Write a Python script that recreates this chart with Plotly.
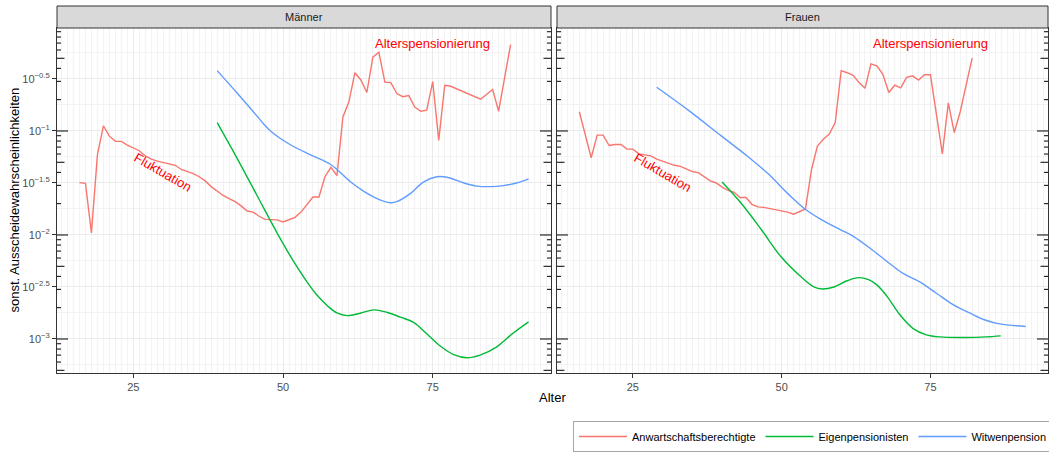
import math
import plotly.graph_objects as go

# ---------------- data (log10 of probability) ----------------
SERIES = ["Anwartschaftsberechtigte", "Eigenpensionisten", "Witwenpension"]
COLORS = ["#F8766D", "#00BA38", "#619CFF"]
PANELS = ["Männer", "Frauen"]

# Männer
m_anw_age = [16, 17, 18, 19, 20, 21, 22, 23, 24, 25, 26, 27, 28, 29, 30, 31, 32, 33, 34, 35,
             36, 37, 38, 39, 40, 41, 42, 43, 44, 45, 46, 47, 48, 49, 50, 51, 52, 53, 54, 55,
             56, 57, 58, 59, 60, 61, 62, 63, 64, 65, 66, 67, 68, 69, 70, 71, 72, 73, 74, 75,
             76, 77, 78, 83, 85, 86, 88]
m_anw_log = [-1.497, -1.503, -1.98, -1.23, -0.95, -1.05, -1.10, -1.10, -1.135, -1.16,
             -1.19, -1.24, -1.27, -1.29, -1.305, -1.315, -1.33, -1.37, -1.39, -1.41,
             -1.44, -1.48, -1.535, -1.58, -1.62, -1.65, -1.68, -1.72, -1.77, -1.78,
             -1.82, -1.85, -1.85, -1.855, -1.875, -1.855, -1.83, -1.78, -1.71, -1.635,
             -1.635, -1.44, -1.35, -1.43, -0.865, -0.72, -0.44, -0.51, -0.63, -0.29,
             -0.243, -0.53, -0.535, -0.64, -0.67, -0.66, -0.77, -0.81, -0.80, -0.525,
             -1.09, -0.56, -0.57, -0.695, -0.60, -0.81, -0.17]

m_eig_age = [39, 42.4, 45.7, 49, 51.3, 54, 55.7, 57.4, 59, 60.7, 63, 65.2, 67.4, 69.6,
             71.8, 74, 76.3, 78.5, 80.7, 82.9, 85.7, 88.4, 91]
m_eig_log = [-0.92, -1.27, -1.625, -1.98, -2.21, -2.45, -2.58, -2.68, -2.75, -2.775,
             -2.75, -2.72, -2.745, -2.79, -2.84, -2.95, -3.07, -3.15, -3.18, -3.155,
             -3.075, -2.945, -2.835]

m_wit_age = [39, 42.4, 45.7, 46.8, 48, 49.5, 51.3, 54.6, 57.9, 59, 61.3, 63.5, 65.7, 67.9,
             69, 71.3, 73.5, 75.7, 77.4, 80.2, 82.4, 84.6, 86.8, 89, 91]
m_wit_log = [-0.42, -0.64, -0.86, -0.935, -1.005, -1.07, -1.135, -1.23, -1.32, -1.37,
             -1.49, -1.58, -1.65, -1.69, -1.68, -1.60, -1.49, -1.44, -1.445, -1.50,
             -1.53, -1.535, -1.525, -1.50, -1.46]

# Frauen
f_anw_age = [16, 18, 19, 20, 21, 22, 23, 24, 25, 26, 27, 28, 29, 30, 31, 32, 33, 34, 35,
             36, 37, 38, 39, 40, 41, 42, 43, 44, 45, 46, 47, 48, 49, 50, 51, 52, 53, 54,
             55, 56, 57, 58, 59, 60, 61, 62, 63, 64, 65, 66, 67, 68, 69, 70, 71, 72, 73,
             74, 75, 77, 78, 79, 80, 82]
f_anw_log = [-0.815, -1.257, -1.04, -1.04, -1.14, -1.13, -1.13, -1.175, -1.175, -1.22,
             -1.23, -1.24, -1.27, -1.29, -1.31, -1.33, -1.34, -1.365, -1.39, -1.40,
             -1.44, -1.48, -1.50, -1.54, -1.57, -1.59, -1.64, -1.64, -1.705, -1.73,
             -1.735, -1.745, -1.76, -1.77, -1.78, -1.80, -1.775, -1.75, -1.375, -1.145,
             -1.08, -1.03, -0.92, -0.42, -0.44, -0.465, -0.535, -0.59, -0.355, -0.375,
             -0.455, -0.63, -0.56, -0.585, -0.485, -0.47, -0.51, -0.46, -0.46, -1.22,
             -0.73, -1.015, -0.815, -0.30]

f_eig_age = [40, 43.2, 46.6, 49.9, 53.2, 55.4, 56.8, 58.8, 61, 62.9, 64.6, 66, 67.7, 69.9,
             72.1, 74.3, 76.6, 81, 84.3, 86.8]
f_eig_log = [-1.49, -1.695, -1.95, -2.21, -2.40, -2.50, -2.52, -2.50, -2.44, -2.41,
             -2.43, -2.48, -2.59, -2.77, -2.90, -2.96, -2.98, -2.985, -2.98, -2.97]

f_wit_age = [29, 34.3, 39.9, 44.3, 47.7, 51, 53.8, 56.6, 59.9, 62.1, 64.9, 67.7, 70.4,
             73.2, 76, 78.8, 81.6, 84.3, 86.6, 91]
f_wit_log = [-0.58, -0.80, -1.05, -1.245, -1.41, -1.60, -1.745, -1.85, -1.95, -2.015,
             -2.13, -2.255, -2.37, -2.45, -2.56, -2.67, -2.75, -2.82, -2.855, -2.88]

y_tick_vals = [-3, -2.5, -2, -1.5, -1, -0.5]
y_tick_text = ["10<sup>−3</sup>", "10<sup>−2.5</sup>", "10<sup>−2</sup>",
               "10<sup>−1.5</sup>", "10<sup>−1</sup>", "10<sup>−0.5</sup>"]
x_tick_vals = [25, 50, 75]

# ---------------- figure ----------------
W, H = 1049, 454
ML, MR, MT, MB = 57, 1, 28, 81
plot_w = W - ML - MR
plot_h = H - MT - MB
left_px = (57, 551)
right_px = (557, 1048)
dom1 = [(left_px[0] - ML) / plot_w, (left_px[1] - ML) / plot_w]
dom2 = [(right_px[0] - ML) / plot_w, (right_px[1] - ML) / plot_w]
XR = [12.25, 94.75]
YR = [-3.327, -0.01]

fig = go.Figure()
panel_data = [
    [(m_anw_age, m_anw_log), (m_eig_age, m_eig_log), (m_wit_age, m_wit_log)],
    [(f_anw_age, f_anw_log), (f_eig_age, f_eig_log), (f_wit_age, f_wit_log)],
]
for p, series in enumerate(panel_data):
    xa = "x" if p == 0 else "x2"
    ya = "y" if p == 0 else "y2"
    for s, (ages, vals) in enumerate(series):
        fig.add_trace(go.Scatter(
            x=ages, y=vals, mode="lines", name=SERIES[s],
            line=dict(color=COLORS[s], width=1.4,
                      shape="linear" if s == 0 else "spline", smoothing=1.0),
            xaxis=xa, yaxis=ya, showlegend=(p == 0), legendrank=s,
        ))

grid_major = "#EBEBEB"
grid_minor = "#F2F2F2"
axis_common = dict(showline=True, linecolor="#333333", linewidth=1, mirror=True,
                   zeroline=False, gridcolor=grid_major, gridwidth=1, automargin=False)
xaxis_common = dict(axis_common, range=XR, tickmode="array", tickvals=x_tick_vals,
                    ticks="outside", ticklen=4, tickcolor="#333333",
                    tickfont=dict(size=11, color="#4D4D4D"),
                    minor=dict(dtick=1, tick0=0, showgrid=True, gridcolor=grid_minor,
                               gridwidth=0.7, ticks=""))
yminor = dict(tickmode="array", tickvals=[-3.25, -2.75, -2.25, -1.75, -1.25, -0.75, -0.25],
              showgrid=True, gridcolor=grid_minor, gridwidth=0.7, ticks="")
fig.update_layout(
    width=W, height=H,
    margin=dict(l=ML, r=MR, t=MT, b=MB, autoexpand=False),
    paper_bgcolor="white", plot_bgcolor="white",
    font=dict(family="Liberation Sans, Arial, sans-serif", size=11, color="#000000"),
    xaxis=dict(xaxis_common, domain=dom1, anchor="y"),
    xaxis2=dict(xaxis_common, domain=dom2, anchor="y2", matches="x"),
    yaxis=dict(axis_common, range=YR, tickmode="array", tickvals=y_tick_vals,
               ticktext=y_tick_text, ticks="outside", ticklen=4, tickcolor="#333333",
               tickfont=dict(size=11, color="#4D4D4D"), minor=yminor, anchor="x"),
    yaxis2=dict(axis_common, range=YR, tickmode="array", tickvals=y_tick_vals,
                showticklabels=False, ticks="", minor=yminor, anchor="x2", matches="y"),
    legend=dict(orientation="h", x=(573 - ML) / plot_w, xanchor="left",
                y=(373 - 421) / plot_h, yanchor="top",
                bordercolor="#A6A6A6", borderwidth=1, itemwidth=48,
                bgcolor="white", font=dict(size=11, color="#000000"),
                traceorder="normal"),
)

shapes = []
annotations = []
strip_h = 22 / plot_h
for p, (name, px) in enumerate(zip(PANELS, [left_px, right_px])):
    xd = "x domain" if p == 0 else "x2 domain"
    ya = "y" if p == 0 else "y2"
    xa = "x" if p == 0 else "x2"
    pw = px[1] - px[0]
    # strip
    shapes.append(dict(type="rect", xref=xd, yref="paper", x0=0, x1=1, y0=1, y1=1 + strip_h,
                       fillcolor="#D9D9D9", line=dict(color="#333333", width=1), layer="above"))
    annotations.append(dict(text=name, xref=xd, yref="paper", x=0.5, y=1 + strip_h / 2,
                            showarrow=False, font=dict(size=11, color="#1A1A1A"),
                            xanchor="center", yanchor="middle"))
    # log ticks on both sides
    for d in range(-4, 1):
        for k in range(1, 10):
            v = math.log10(k) + d
            if v < YR[0] or v > YR[1] + 0.011:
                continue
            L = 11 if k == 1 else (7.5 if k == 5 else 4)
            f = L / pw
            for x0, x1 in [(0, f), (1 - f, 1)]:
                shapes.append(dict(type="line", xref=xd, yref=ya, x0=x0, x1=x1, y0=v, y1=v,
                                   line=dict(color="#000000", width=1), layer="above"))
    # text annotations
    annotations.append(dict(text="Alterspensionierung", xref=xa, yref=ya, x=75, y=-0.16,
                            showarrow=False, font=dict(size=13, color="#FF0000"),
                            xanchor="center", yanchor="middle"))
    annotations.append(dict(text="Fluktuation", xref=xa, yref=ya, x=30, y=-1.40,
                            showarrow=False, textangle=30, font=dict(size=13, color="#FF0000"),
                            xanchor="center", yanchor="middle"))

annotations.append(dict(text="Alter", xref="paper", yref="paper", x=0.5,
                        y=(373 - 397) / plot_h, showarrow=False,
                        font=dict(size=13, color="#000000"), xanchor="center", yanchor="middle"))
annotations.append(dict(text="sonst. Ausscheidewahrscheinlichkeiten", xref="paper", yref="paper",
                        x=(14 - ML) / plot_w, y=0.5, textangle=-90, showarrow=False,
                        font=dict(size=13, color="#000000"), xanchor="center", yanchor="middle"))

fig.update_layout(shapes=shapes, annotations=annotations)
fig.write_html(
    "out.html",
    config={"displayModeBar": False},
    post_script="document.body.style.margin='0';document.body.style.overflow='hidden';",
)
